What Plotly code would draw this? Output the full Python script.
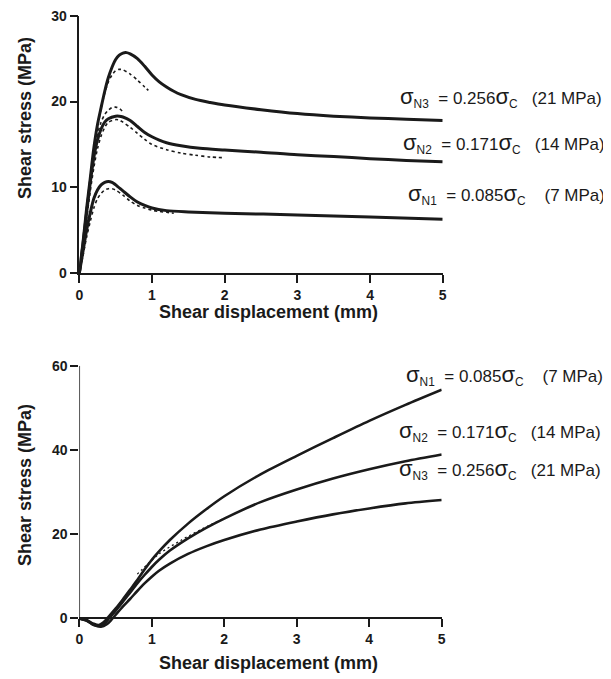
import plotly.graph_objects as go

# ---------------- Top panel: shear stress vs displacement ----------------
top_n3_x = [0, 0.05, 0.1, 0.15, 0.2, 0.25, 0.3, 0.35, 0.4, 0.45, 0.5, 0.55, 0.6, 0.65, 0.7, 0.8, 0.9, 1.0, 1.1, 1.2, 1.3, 1.4, 1.6, 1.8, 2.0, 2.5, 3.0, 3.5, 4.0, 4.5, 5.0]
top_n3_y = [0, 3.5, 7.5, 11.0, 14.6, 17.3, 19.3, 21.2, 22.8, 24.0, 24.9, 25.4, 25.65, 25.7, 25.55, 25.0, 24.1, 23.1, 22.3, 21.7, 21.2, 20.8, 20.25, 19.9, 19.6, 19.05, 18.6, 18.3, 18.1, 17.95, 17.8]
top_n3d_x = [0, 0.05, 0.1, 0.15, 0.2, 0.25, 0.3, 0.35, 0.4, 0.45, 0.5, 0.55, 0.6, 0.7, 0.8, 0.9, 0.95]
top_n3d_y = [0, 3.3, 7.0, 10.5, 14.0, 17.0, 19.2, 21.0, 22.3, 23.1, 23.6, 23.75, 23.7, 23.2, 22.5, 21.7, 21.3]

top_n2_x = [0, 0.05, 0.1, 0.15, 0.2, 0.25, 0.3, 0.35, 0.4, 0.5, 0.55, 0.6, 0.7, 0.8, 0.9, 1.0, 1.1, 1.2, 1.4, 1.66, 2.0, 2.5, 3.0, 3.5, 4.0, 4.5, 5.0]
top_n2_y = [0, 3.3, 7.0, 10.5, 13.5, 15.5, 16.8, 17.6, 18.0, 18.3, 18.3, 18.2, 17.8, 17.1, 16.4, 15.9, 15.5, 15.2, 14.85, 14.55, 14.35, 14.1, 13.8, 13.6, 13.35, 13.15, 13.0]
top_n2u_x = [0, 0.05, 0.1, 0.15, 0.2, 0.25, 0.3, 0.35, 0.4, 0.45, 0.5, 0.55, 0.6]
top_n2u_y = [0, 3.5, 7.5, 11.0, 14.0, 16.2, 17.6, 18.5, 19.0, 19.3, 19.35, 19.2, 18.8]
top_n2l_x = [0, 0.05, 0.1, 0.15, 0.2, 0.25, 0.3, 0.35, 0.4, 0.5, 0.55, 0.6, 0.7, 0.8, 0.9, 1.0, 1.2, 1.4, 1.6, 1.8, 2.0]
top_n2l_y = [0, 3.0, 6.3, 9.5, 12.3, 14.5, 16.0, 17.0, 17.6, 17.9, 17.85, 17.6, 17.0, 16.3, 15.6, 15.0, 14.4, 14.0, 13.75, 13.55, 13.45]

top_n1_x = [0, 0.05, 0.1, 0.15, 0.2, 0.25, 0.3, 0.35, 0.4, 0.45, 0.5, 0.6, 0.7, 0.8, 0.9, 1.0, 1.2, 1.5, 2.0, 3.0, 4.0, 5.0]
top_n1_y = [0, 2.5, 5.0, 7.0, 8.7, 9.7, 10.3, 10.6, 10.7, 10.6, 10.3, 9.6, 8.9, 8.3, 7.9, 7.6, 7.3, 7.15, 7.0, 6.8, 6.55, 6.3]
top_n1d_x = [0, 0.05, 0.1, 0.15, 0.2, 0.25, 0.3, 0.35, 0.4, 0.45, 0.5, 0.6, 0.7, 0.8, 0.9, 1.0, 1.1, 1.2, 1.3]
top_n1d_y = [0, 2.0, 4.2, 6.0, 7.6, 8.7, 9.3, 9.7, 9.85, 9.85, 9.7, 9.1, 8.4, 7.9, 7.6, 7.35, 7.2, 7.1, 7.0]

# ---------------- Bottom panel ----------------
bot_n1_x = [0, 0.1, 0.2, 0.27, 0.33, 0.4, 0.5, 0.6, 0.7, 0.8, 0.9, 1.0, 1.1, 1.25, 1.5, 1.75, 2.0, 2.5, 3.0, 3.5, 4.0, 4.5, 5.0]
bot_n1_y = [0, -0.4, -1.3, -1.6, -1.0, 0.3, 2.3, 4.5, 6.8, 9.1, 11.6, 13.9, 15.9, 18.6, 22.5, 25.9, 29.0, 34.2, 38.6, 42.8, 46.9, 50.7, 54.3]
bot_n2_x = [0, 0.1, 0.2, 0.28, 0.35, 0.42, 0.5, 0.6, 0.7, 0.8, 0.9, 1.0, 1.1, 1.25, 1.5, 1.75, 2.0, 2.5, 3.0, 3.5, 4.0, 4.5, 5.0]
bot_n2_y = [0, -0.5, -1.5, -1.8, -1.2, 0.2, 1.8, 3.9, 6.1, 8.3, 10.3, 12.2, 13.9, 16.1, 19.0, 21.5, 23.7, 27.6, 30.6, 33.2, 35.4, 37.3, 38.9]
bot_n3_x = [0, 0.1, 0.2, 0.3, 0.38, 0.45, 0.5, 0.6, 0.7, 0.8, 0.9, 1.0, 1.1, 1.25, 1.5, 1.75, 2.0, 2.5, 3.0, 3.5, 4.0, 4.5, 5.0]
bot_n3_y = [0, -0.5, -1.6, -2.0, -1.4, -0.2, 0.8, 2.8, 4.6, 6.5, 8.3, 9.9, 11.3, 13.0, 15.3, 17.1, 18.6, 21.1, 23.0, 24.7, 26.1, 27.3, 28.1]
bot_d_x = [0.8, 1.1, 1.4, 1.7, 2.08]
bot_d_y = [10.5, 15.3, 18.5, 21.3, 24.4]

x_ticks = [0, 1, 2, 3, 4, 5]
top_y_ticks = [0, 10, 20, 30]
bot_y_ticks = [0, 20, 40, 60]

SIG = '<span style="font-size:22px">σ</span>'
NB = "\u00a0"
lab_n3 = SIG + "<sub>N3</sub>" + NB * 2 + "= 0.256" + SIG + "<sub>C</sub>" + NB * 2 + " (21 MPa)"
lab_n2 = SIG + "<sub>N2</sub>" + NB * 2 + "= 0.171" + SIG + "<sub>C</sub>" + NB * 2 + " (14 MPa)"
lab_n1 = SIG + "<sub>N1</sub>" + NB * 2 + "= 0.085" + SIG + "<sub>C</sub>" + NB * 3 + " (7 MPa)"
label_top = [lab_n3, lab_n2, lab_n1]
label_bot = [lab_n1, lab_n2, lab_n3]

INK = "#1a1a1a"
OFF = 8                      # page body margin
W, H = 611 - OFF, 679 - OFF  # figure size that fits in the window
FONT = "Liberation Sans, Arial, sans-serif"


def px(x):
    return (x - OFF) / W


def py(y):
    return 1 - (y - OFF) / H


fig = go.Figure()


def add(x, y, xa, ya, width, dash=None):
    fig.add_trace(go.Scatter(
        x=x, y=y, xaxis=xa, yaxis=ya, mode="lines",
        line=dict(color=INK, width=width, dash=dash, shape="spline", smoothing=0.8),
        showlegend=False, hoverinfo="skip"))


# top
add(top_n3d_x, top_n3d_y, "x", "y", 1.6, "3px,3px")
add(top_n2u_x, top_n2u_y, "x", "y", 1.6, "3px,3px")
add(top_n2l_x, top_n2l_y, "x", "y", 1.6, "3px,3px")
add(top_n1d_x, top_n1d_y, "x", "y", 1.6, "3px,3px")
add(top_n3_x, top_n3_y, "x", "y", 3)
add(top_n2_x, top_n2_y, "x", "y", 3)
add(top_n1_x, top_n1_y, "x", "y", 3)
# bottom
add(bot_d_x, bot_d_y, "x2", "y2", 1.3, "2px,3px")
add(bot_n1_x, bot_n1_y, "x2", "y2", 2.6)
add(bot_n2_x, bot_n2_y, "x2", "y2", 2.6)
add(bot_n3_x, bot_n3_y, "x2", "y2", 2.6)

tickfont = dict(family=FONT, size=14, color=INK, weight="bold")
axis_common = dict(showgrid=False, zeroline=False, ticks="outside", ticklen=8,
                   tickwidth=1.5, tickcolor=INK, linecolor=INK, linewidth=1.5,
                   tickfont=tickfont, fixedrange=True, ticklabeloverflow="allow")

fig.update_layout(
    width=W, height=H,
    margin=dict(l=0, r=0, t=0, b=0, autoexpand=False),
    paper_bgcolor="white", plot_bgcolor="white",
    font=dict(family=FONT, color=INK),
    xaxis=dict(domain=[px(79.3), px(442.7)], range=[0, 5], tickvals=x_ticks, anchor="y",
               showline=True, **axis_common),
    yaxis=dict(domain=[py(273.3), py(15.7)], range=[0, 30], tickvals=top_y_ticks, anchor="x",
               showline=True, **axis_common),
    xaxis2=dict(domain=[px(79.3), px(441.7)], range=[0, 5], tickvals=x_ticks, anchor="free",
                position=py(618.3), showline=True, **axis_common),
    yaxis2=dict(domain=[py(631.0), py(365.7)], range=[-3, 60], tickvals=bot_y_ticks, anchor="x2",
                showline=False, **axis_common),
)

# y-axis line of bottom panel from 0 to 60
fig.add_shape(type="line", xref="x2", yref="y2", x0=0, x1=0, y0=0, y1=60,
              line=dict(color=INK, width=1.5))

title_font = dict(family=FONT, size=18, color=INK, weight="bold")
anns = [
    dict(text="Shear displacement (mm)", x=px(268), y=py(312), textangle=0),
    dict(text="Shear displacement (mm)", x=px(268), y=py(663), textangle=0),
    dict(text="Shear stress (MPa)", x=px(25), y=py(118), textangle=-90),
    dict(text="Shear stress (MPa)", x=px(25), y=py(485), textangle=-90),
]
for a in anns:
    fig.add_annotation(xref="paper", yref="paper", showarrow=False, font=title_font,
                       xanchor="center", yanchor="middle", **a)

lab_font = dict(family=FONT, size=17, color=INK)
for txt, xs, yc in zip(label_top, [398, 400.7, 406], [97, 143, 195]):
    fig.add_annotation(xref="paper", yref="paper", x=px(xs), y=py(yc), text=txt,
                       showarrow=False, xanchor="left", yanchor="middle", font=lab_font)
for txt, xs, yc in zip(label_bot, [404, 396.7, 396.7], [375, 431.7, 469]):
    fig.add_annotation(xref="paper", yref="paper", x=px(xs), y=py(yc), text=txt,
                       showarrow=False, xanchor="left", yanchor="middle", font=lab_font)

fig.write_html("out.html")
